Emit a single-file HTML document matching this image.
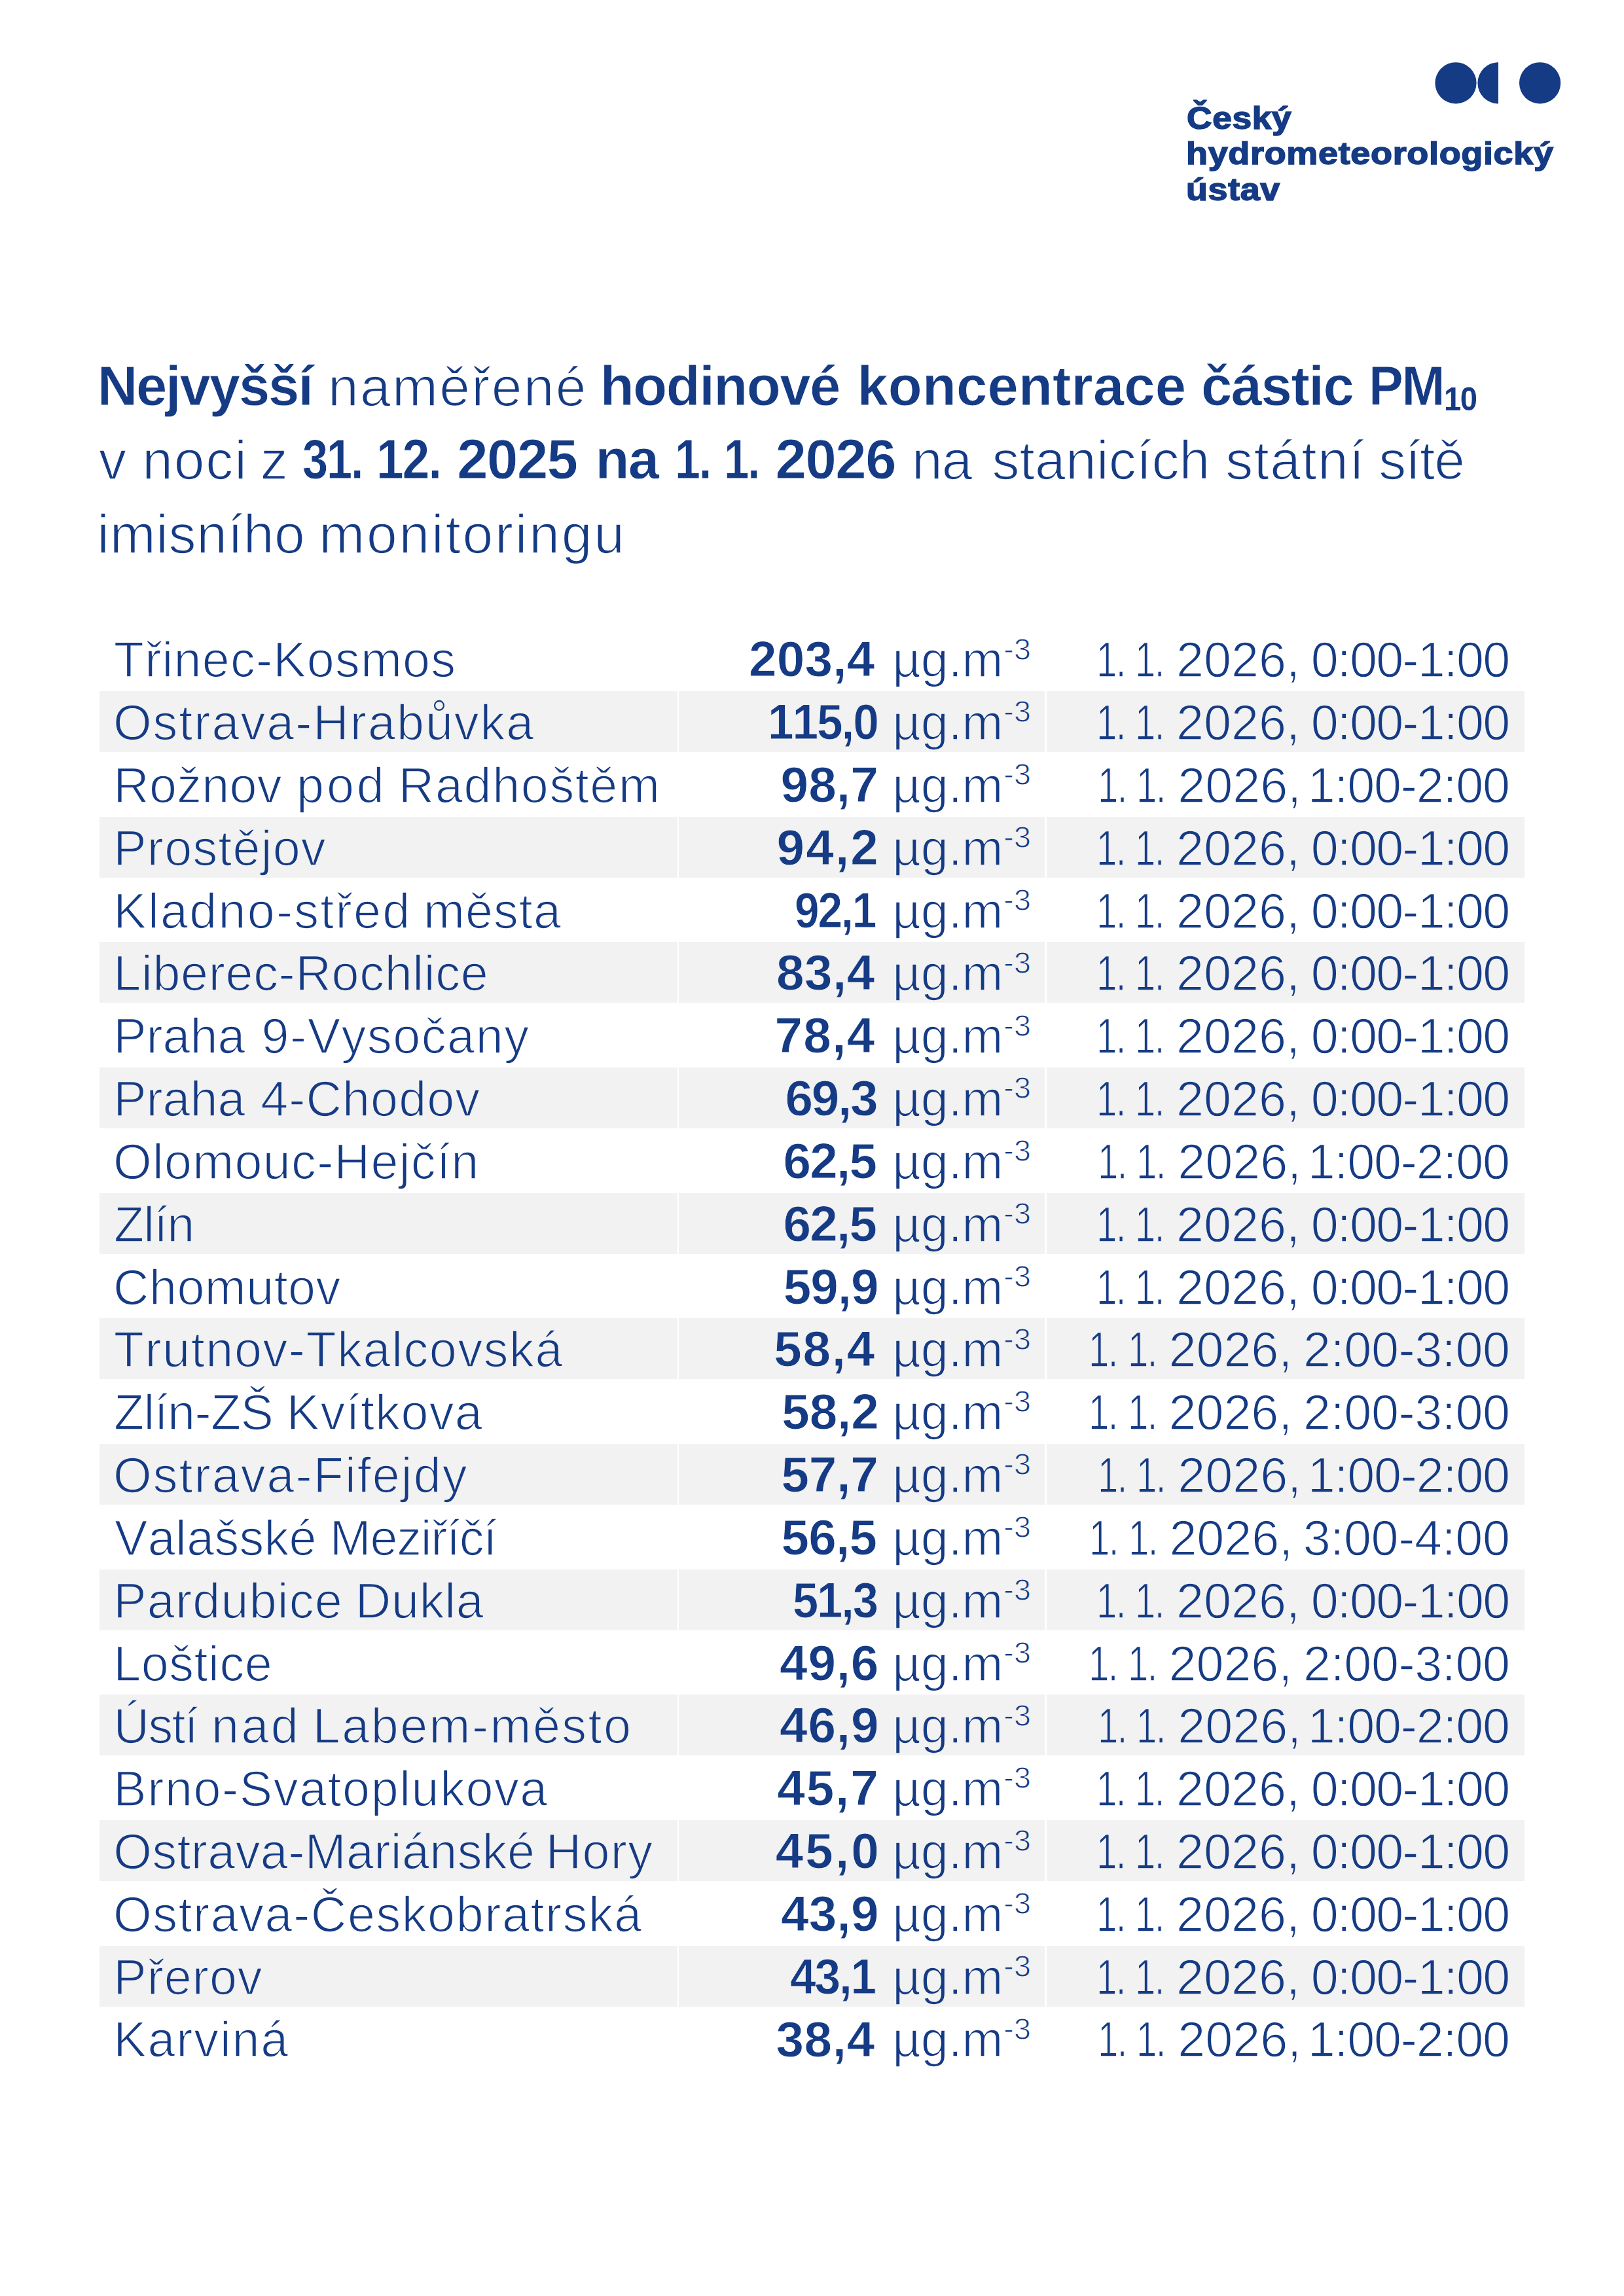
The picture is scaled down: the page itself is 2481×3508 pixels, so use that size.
<!DOCTYPE html>
<html lang="cs"><head><meta charset="utf-8"><title>Nejvyšší naměřené hodinové koncentrace částic PM10</title>
<style>
html,body{margin:0;padding:0;background:#fff;width:2481px;height:3508px}
body{position:relative;overflow:hidden;font-family:"Liberation Sans",sans-serif;color:#163b85;font-kerning:none;font-variant-ligatures:none}
span,sub,sup{position:absolute;white-space:nowrap;line-height:1;font-weight:400;transform-origin:0 0;vertical-align:baseline}
.b{font-weight:700}
header{position:absolute;left:0;top:0;width:2481px;height:340px}
.logo span{font-size:49.0px;font-weight:700;-webkit-text-stroke:1.6px #163b85}
h1{position:absolute;left:0;top:520px;width:2481px;height:360px;margin:0;font-size:84.000px;font-weight:400}
h1 span,h1 sub{font-size:84.000px;-webkit-text-stroke:1.70px #fff}
h1 .b{font-size:85.0px;-webkit-text-stroke-width:0.80px}
h1 .sub{font-size:50.0px;-webkit-text-stroke-width:0}
.t{position:absolute;left:152px;top:960.17px;width:2177px}
.r{position:relative;height:95.8333px;font-size:75.5px}
.r i{position:absolute;top:0;height:93.1px;display:block}
.r:nth-child(even) i{background:#f2f2f2}
.c1{left:0;width:882.5px}.c2{left:885px;width:559.3px}.c3{left:1446.7px;width:730.3px}
.r span,.r sup{font-size:75.5px;-webkit-text-stroke:1.66px #fff}
.r:nth-child(even) span,.r:nth-child(even) sup{-webkit-text-stroke-color:#f2f2f2}
.r .b{font-size:76.5px;-webkit-text-stroke-width:0.86px}
.r .sup{font-size:46.5px;-webkit-text-stroke-width:1.02px}
</style></head>
<body>
<header>
<svg width="2481" height="340" viewBox="0 0 2481 340" style="position:absolute;left:0;top:0"><circle cx="2224" cy="126.8" r="31.6" fill="#163b85"/><path d="M2289,95.2 A31.6,31.6 0 0 0 2289,158.4 Z" fill="#163b85"/><circle cx="2352.6" cy="126.8" r="31.6" fill="#163b85"/></svg>
<div class="logo">
<span class="b" style="left:1813.4px;top:155.8px;letter-spacing:0.60px;transform:scaleX(1.088)">Český</span>
<span class="b" style="left:1811.8px;top:209.5px;letter-spacing:0.60px;transform:scaleX(1.102)">hydrometeorologický</span>
<span class="b" style="left:1812.3px;top:264.8px;letter-spacing:0.60px;transform:scaleX(1.099)">ústav</span>
</div></header>
<h1>
<span class="b" style="left:148.7px;top:26.9px;letter-spacing:-2.12px">Nejvyšší</span>
<span style="left:501.0px;top:28.8px;letter-spacing:2.31px">naměřené</span>
<span class="b" style="left:916.8px;top:26.9px;letter-spacing:-1.47px">hodinové</span>
<span class="b" style="left:1309.4px;top:26.9px;letter-spacing:0.19px">koncentrace</span>
<span class="b" style="left:1834.9px;top:26.9px;letter-spacing:-1.44px">částic</span>
<span class="b" style="left:2090.9px;top:26.9px;letter-spacing:-2.55px;transform:scaleX(0.932)">PM</span><sub class="b sub" style="left:2206.3px;top:64.5px;letter-spacing:-1.50px;transform:scaleX(0.944)">10</sub>
<span style="left:151.0px;top:141.3px">v</span>
<span style="left:217.3px;top:141.3px;letter-spacing:1.81px">noci</span>
<span style="left:397.7px;top:141.3px">z</span>
<span class="b" style="left:462.0px;top:139.4px;letter-spacing:-2.55px;transform:scaleX(0.827)">31.</span>
<span class="b" style="left:575.0px;top:139.4px;letter-spacing:-2.55px;transform:scaleX(0.885)">12.</span>
<span class="b" style="left:698.3px;top:139.4px;letter-spacing:-1.46px">2025</span>
<span class="b" style="left:909.5px;top:139.4px;letter-spacing:-1.72px">na</span>
<span class="b" style="left:1030.7px;top:139.4px;letter-spacing:-2.55px;transform:scaleX(0.823)">1.</span>
<span class="b" style="left:1106.1px;top:139.4px;letter-spacing:-2.55px;transform:scaleX(0.812)">1.</span>
<span class="b" style="left:1184.5px;top:139.4px;letter-spacing:-1.39px">2026</span>
<span style="left:1393.0px;top:141.3px;letter-spacing:-0.86px">na</span>
<span style="left:1515.4px;top:141.3px;letter-spacing:0.18px">stanicích</span>
<span style="left:1872.2px;top:141.3px;letter-spacing:1.36px">státní</span>
<span style="left:2106.2px;top:141.3px;letter-spacing:-1.21px">sítě</span>
<span style="left:148.3px;top:253.8px;letter-spacing:0.67px">imisního</span>
<span style="left:487.3px;top:253.8px;letter-spacing:2.78px">monitoringu</span>
</h1>
<div class="t">
<div class="r"><i class="c1"></i><i class="c2"></i><i class="c3"></i> <span style="left:21.8px;top:11.1px;letter-spacing:1.22px">Třinec-Kosmos</span> <span class="b" style="left:991.9px;top:9.2px;letter-spacing:0.22px">203,4</span> <span style="left:1211.2px;top:11.1px;letter-spacing:-0.02px">µg.m</span><sup class="sup" style="left:1381.3px;top:8.4px;letter-spacing:0.19px">-3</sup> <span style="left:1522.7px;top:11.1px;letter-spacing:-2.27px;transform:scaleX(0.748);-webkit-text-stroke-width:1.43px">1.</span> <span style="left:1582.0px;top:11.1px;letter-spacing:-2.27px;transform:scaleX(0.748);-webkit-text-stroke-width:1.43px">1.</span> <span style="left:1645.1px;top:11.1px;letter-spacing:-0.02px;-webkit-text-stroke-width:1.48px">2026,</span> <span style="left:1850.7px;top:11.1px;letter-spacing:-1.82px;-webkit-text-stroke-width:1.48px">0:00-1:00</span></div>
<div class="r"><i class="c1"></i><i class="c2"></i><i class="c3"></i> <span style="left:20.9px;top:11.1px;letter-spacing:1.99px">Ostrava-Hrabůvka</span> <span class="b" style="left:1020.7px;top:9.2px;letter-spacing:-2.29px;transform:scaleX(0.932)">115,0</span> <span style="left:1211.2px;top:11.1px;letter-spacing:-0.02px">µg.m</span><sup class="sup" style="left:1381.3px;top:8.4px;letter-spacing:0.19px">-3</sup> <span style="left:1522.7px;top:11.1px;letter-spacing:-2.27px;transform:scaleX(0.748);-webkit-text-stroke-width:1.43px">1.</span> <span style="left:1582.0px;top:11.1px;letter-spacing:-2.27px;transform:scaleX(0.748);-webkit-text-stroke-width:1.43px">1.</span> <span style="left:1645.1px;top:11.1px;letter-spacing:-0.02px;-webkit-text-stroke-width:1.48px">2026,</span> <span style="left:1850.7px;top:11.1px;letter-spacing:-1.82px;-webkit-text-stroke-width:1.48px">0:00-1:00</span></div>
<div class="r"><i class="c1"></i><i class="c2"></i><i class="c3"></i> <span style="left:21.3px;top:11.1px;letter-spacing:0.26px">Rožnov</span> <span style="left:301.1px;top:11.1px;letter-spacing:3.81px">pod</span> <span style="left:456.8px;top:11.1px;letter-spacing:1.62px">Radhoštěm</span> <span class="b" style="left:1040.5px;top:9.2px;letter-spacing:0.10px">98,7</span> <span style="left:1211.2px;top:11.1px;letter-spacing:-0.02px">µg.m</span><sup class="sup" style="left:1381.3px;top:8.4px;letter-spacing:0.19px">-3</sup> <span style="left:1524.8px;top:11.1px;letter-spacing:-2.27px;transform:scaleX(0.748);-webkit-text-stroke-width:1.43px">1.</span> <span style="left:1584.3px;top:11.1px;letter-spacing:-2.27px;transform:scaleX(0.748);-webkit-text-stroke-width:1.43px">1.</span> <span style="left:1647.3px;top:11.1px;letter-spacing:-0.04px;-webkit-text-stroke-width:1.48px">2026,</span> <span style="left:1845.7px;top:11.1px;letter-spacing:-1.22px;-webkit-text-stroke-width:1.48px">1:00-2:00</span></div>
<div class="r"><i class="c1"></i><i class="c2"></i><i class="c3"></i> <span style="left:21.3px;top:11.1px;letter-spacing:1.20px">Prostějov</span> <span class="b" style="left:1034.5px;top:9.2px;letter-spacing:2.17px">94,2</span> <span style="left:1211.2px;top:11.1px;letter-spacing:-0.02px">µg.m</span><sup class="sup" style="left:1381.3px;top:8.4px;letter-spacing:0.19px">-3</sup> <span style="left:1522.7px;top:11.1px;letter-spacing:-2.27px;transform:scaleX(0.748);-webkit-text-stroke-width:1.43px">1.</span> <span style="left:1582.0px;top:11.1px;letter-spacing:-2.27px;transform:scaleX(0.748);-webkit-text-stroke-width:1.43px">1.</span> <span style="left:1645.1px;top:11.1px;letter-spacing:-0.02px;-webkit-text-stroke-width:1.48px">2026,</span> <span style="left:1850.7px;top:11.1px;letter-spacing:-1.82px;-webkit-text-stroke-width:1.48px">0:00-1:00</span></div>
<div class="r"><i class="c1"></i><i class="c2"></i><i class="c3"></i> <span style="left:21.3px;top:11.1px;letter-spacing:2.26px">Kladno-střed</span> <span style="left:495.0px;top:11.1px;letter-spacing:1.07px">města</span> <span class="b" style="left:1061.6px;top:9.2px;letter-spacing:-2.29px;transform:scaleX(0.883)">92,1</span> <span style="left:1211.2px;top:11.1px;letter-spacing:-0.02px">µg.m</span><sup class="sup" style="left:1381.3px;top:8.4px;letter-spacing:0.19px">-3</sup> <span style="left:1522.7px;top:11.1px;letter-spacing:-2.27px;transform:scaleX(0.748);-webkit-text-stroke-width:1.43px">1.</span> <span style="left:1582.0px;top:11.1px;letter-spacing:-2.27px;transform:scaleX(0.748);-webkit-text-stroke-width:1.43px">1.</span> <span style="left:1645.1px;top:11.1px;letter-spacing:-0.02px;-webkit-text-stroke-width:1.48px">2026,</span> <span style="left:1850.7px;top:11.1px;letter-spacing:-1.82px;-webkit-text-stroke-width:1.48px">0:00-1:00</span></div>
<div class="r"><i class="c1"></i><i class="c2"></i><i class="c3"></i> <span style="left:21.3px;top:11.1px;letter-spacing:0.67px">Liberec-Rochlice</span> <span class="b" style="left:1034.0px;top:9.2px;letter-spacing:0.44px">83,4</span> <span style="left:1211.2px;top:11.1px;letter-spacing:-0.02px">µg.m</span><sup class="sup" style="left:1381.3px;top:8.4px;letter-spacing:0.19px">-3</sup> <span style="left:1522.7px;top:11.1px;letter-spacing:-2.27px;transform:scaleX(0.748);-webkit-text-stroke-width:1.43px">1.</span> <span style="left:1582.0px;top:11.1px;letter-spacing:-2.27px;transform:scaleX(0.748);-webkit-text-stroke-width:1.43px">1.</span> <span style="left:1645.1px;top:11.1px;letter-spacing:-0.02px;-webkit-text-stroke-width:1.48px">2026,</span> <span style="left:1850.7px;top:11.1px;letter-spacing:-1.82px;-webkit-text-stroke-width:1.48px">0:00-1:00</span></div>
<div class="r"><i class="c1"></i><i class="c2"></i><i class="c3"></i> <span style="left:21.3px;top:11.1px;letter-spacing:-0.10px">Praha</span> <span style="left:247.4px;top:11.1px;letter-spacing:1.57px">9-Vysočany</span> <span class="b" style="left:1031.4px;top:9.2px;letter-spacing:1.33px">78,4</span> <span style="left:1211.2px;top:11.1px;letter-spacing:-0.02px">µg.m</span><sup class="sup" style="left:1381.3px;top:8.4px;letter-spacing:0.19px">-3</sup> <span style="left:1522.7px;top:11.1px;letter-spacing:-2.27px;transform:scaleX(0.748);-webkit-text-stroke-width:1.43px">1.</span> <span style="left:1582.0px;top:11.1px;letter-spacing:-2.27px;transform:scaleX(0.748);-webkit-text-stroke-width:1.43px">1.</span> <span style="left:1645.1px;top:11.1px;letter-spacing:-0.02px;-webkit-text-stroke-width:1.48px">2026,</span> <span style="left:1850.7px;top:11.1px;letter-spacing:-1.82px;-webkit-text-stroke-width:1.48px">0:00-1:00</span></div>
<div class="r"><i class="c1"></i><i class="c2"></i><i class="c3"></i> <span style="left:21.3px;top:11.1px;letter-spacing:-0.10px">Praha</span> <span style="left:246.2px;top:11.1px;letter-spacing:1.07px">4-Chodov</span> <span class="b" style="left:1047.4px;top:9.2px;letter-spacing:-2.22px">69,3</span> <span style="left:1211.2px;top:11.1px;letter-spacing:-0.02px">µg.m</span><sup class="sup" style="left:1381.3px;top:8.4px;letter-spacing:0.19px">-3</sup> <span style="left:1522.7px;top:11.1px;letter-spacing:-2.27px;transform:scaleX(0.748);-webkit-text-stroke-width:1.43px">1.</span> <span style="left:1582.0px;top:11.1px;letter-spacing:-2.27px;transform:scaleX(0.748);-webkit-text-stroke-width:1.43px">1.</span> <span style="left:1645.1px;top:11.1px;letter-spacing:-0.02px;-webkit-text-stroke-width:1.48px">2026,</span> <span style="left:1850.7px;top:11.1px;letter-spacing:-1.82px;-webkit-text-stroke-width:1.48px">0:00-1:00</span></div>
<div class="r"><i class="c1"></i><i class="c2"></i><i class="c3"></i> <span style="left:20.9px;top:11.1px;letter-spacing:1.31px">Olomouc-Hejčín</span> <span class="b" style="left:1044.4px;top:9.2px;letter-spacing:-1.76px">62,5</span> <span style="left:1211.2px;top:11.1px;letter-spacing:-0.02px">µg.m</span><sup class="sup" style="left:1381.3px;top:8.4px;letter-spacing:0.19px">-3</sup> <span style="left:1524.8px;top:11.1px;letter-spacing:-2.27px;transform:scaleX(0.748);-webkit-text-stroke-width:1.43px">1.</span> <span style="left:1584.3px;top:11.1px;letter-spacing:-2.27px;transform:scaleX(0.748);-webkit-text-stroke-width:1.43px">1.</span> <span style="left:1647.3px;top:11.1px;letter-spacing:-0.04px;-webkit-text-stroke-width:1.48px">2026,</span> <span style="left:1845.7px;top:11.1px;letter-spacing:-1.22px;-webkit-text-stroke-width:1.48px">1:00-2:00</span></div>
<div class="r"><i class="c1"></i><i class="c2"></i><i class="c3"></i> <span style="left:22.1px;top:11.1px;letter-spacing:-0.90px">Zlín</span> <span class="b" style="left:1044.4px;top:9.2px;letter-spacing:-1.76px">62,5</span> <span style="left:1211.2px;top:11.1px;letter-spacing:-0.02px">µg.m</span><sup class="sup" style="left:1381.3px;top:8.4px;letter-spacing:0.19px">-3</sup> <span style="left:1522.7px;top:11.1px;letter-spacing:-2.27px;transform:scaleX(0.748);-webkit-text-stroke-width:1.43px">1.</span> <span style="left:1582.0px;top:11.1px;letter-spacing:-2.27px;transform:scaleX(0.748);-webkit-text-stroke-width:1.43px">1.</span> <span style="left:1645.1px;top:11.1px;letter-spacing:-0.02px;-webkit-text-stroke-width:1.48px">2026,</span> <span style="left:1850.7px;top:11.1px;letter-spacing:-1.82px;-webkit-text-stroke-width:1.48px">0:00-1:00</span></div>
<div class="r"><i class="c1"></i><i class="c2"></i><i class="c3"></i> <span style="left:21.0px;top:11.1px;letter-spacing:0.45px">Chomutov</span> <span class="b" style="left:1044.8px;top:9.2px;letter-spacing:-1.08px">59,9</span> <span style="left:1211.2px;top:11.1px;letter-spacing:-0.02px">µg.m</span><sup class="sup" style="left:1381.3px;top:8.4px;letter-spacing:0.19px">-3</sup> <span style="left:1522.7px;top:11.1px;letter-spacing:-2.27px;transform:scaleX(0.748);-webkit-text-stroke-width:1.43px">1.</span> <span style="left:1582.0px;top:11.1px;letter-spacing:-2.27px;transform:scaleX(0.748);-webkit-text-stroke-width:1.43px">1.</span> <span style="left:1645.1px;top:11.1px;letter-spacing:-0.02px;-webkit-text-stroke-width:1.48px">2026,</span> <span style="left:1850.7px;top:11.1px;letter-spacing:-1.82px;-webkit-text-stroke-width:1.48px">0:00-1:00</span></div>
<div class="r"><i class="c1"></i><i class="c2"></i><i class="c3"></i> <span style="left:21.8px;top:11.1px;letter-spacing:1.58px">Trutnov-Tkalcovská</span> <span class="b" style="left:1030.3px;top:9.2px;letter-spacing:1.68px">58,4</span> <span style="left:1211.2px;top:11.1px;letter-spacing:-0.02px">µg.m</span><sup class="sup" style="left:1381.3px;top:8.4px;letter-spacing:0.19px">-3</sup> <span style="left:1511.0px;top:11.1px;letter-spacing:-2.27px;transform:scaleX(0.748);-webkit-text-stroke-width:1.43px">1.</span> <span style="left:1570.5px;top:11.1px;letter-spacing:-2.27px;transform:scaleX(0.748);-webkit-text-stroke-width:1.43px">1.</span> <span style="left:1633.5px;top:11.1px;letter-spacing:-0.04px;-webkit-text-stroke-width:1.48px">2026,</span> <span style="left:1839.1px;top:11.1px;letter-spacing:-0.39px;-webkit-text-stroke-width:1.48px">2:00-3:00</span></div>
<div class="r"><i class="c1"></i><i class="c2"></i><i class="c3"></i> <span style="left:22.1px;top:11.1px;letter-spacing:-0.63px">Zlín-ZŠ</span> <span style="left:285.8px;top:11.1px;letter-spacing:1.36px">Kvítkova</span> <span class="b" style="left:1042.3px;top:9.2px;letter-spacing:-0.17px">58,2</span> <span style="left:1211.2px;top:11.1px;letter-spacing:-0.02px">µg.m</span><sup class="sup" style="left:1381.3px;top:8.4px;letter-spacing:0.19px">-3</sup> <span style="left:1511.0px;top:11.1px;letter-spacing:-2.27px;transform:scaleX(0.748);-webkit-text-stroke-width:1.43px">1.</span> <span style="left:1570.5px;top:11.1px;letter-spacing:-2.27px;transform:scaleX(0.748);-webkit-text-stroke-width:1.43px">1.</span> <span style="left:1633.5px;top:11.1px;letter-spacing:-0.04px;-webkit-text-stroke-width:1.48px">2026,</span> <span style="left:1839.1px;top:11.1px;letter-spacing:-0.39px;-webkit-text-stroke-width:1.48px">2:00-3:00</span></div>
<div class="r"><i class="c1"></i><i class="c2"></i><i class="c3"></i> <span style="left:20.9px;top:11.1px;letter-spacing:2.05px">Ostrava-Fifejdy</span> <span class="b" style="left:1041.6px;top:9.2px;letter-spacing:-0.27px">57,7</span> <span style="left:1211.2px;top:11.1px;letter-spacing:-0.02px">µg.m</span><sup class="sup" style="left:1381.3px;top:8.4px;letter-spacing:0.19px">-3</sup> <span style="left:1524.8px;top:11.1px;letter-spacing:-2.27px;transform:scaleX(0.748);-webkit-text-stroke-width:1.43px">1.</span> <span style="left:1584.3px;top:11.1px;letter-spacing:-2.27px;transform:scaleX(0.748);-webkit-text-stroke-width:1.43px">1.</span> <span style="left:1647.3px;top:11.1px;letter-spacing:-0.04px;-webkit-text-stroke-width:1.48px">2026,</span> <span style="left:1845.7px;top:11.1px;letter-spacing:-1.22px;-webkit-text-stroke-width:1.48px">1:00-2:00</span></div>
<div class="r"><i class="c1"></i><i class="c2"></i><i class="c3"></i> <span style="left:23.1px;top:11.1px;letter-spacing:0.31px">Valašské</span> <span style="left:351.8px;top:11.1px;letter-spacing:-1.26px">Meziříčí</span> <span class="b" style="left:1041.6px;top:9.2px;letter-spacing:-0.85px">56,5</span> <span style="left:1211.2px;top:11.1px;letter-spacing:-0.02px">µg.m</span><sup class="sup" style="left:1381.3px;top:8.4px;letter-spacing:0.19px">-3</sup> <span style="left:1512.3px;top:11.1px;letter-spacing:-2.27px;transform:scaleX(0.748);-webkit-text-stroke-width:1.43px">1.</span> <span style="left:1572.2px;top:11.1px;letter-spacing:-2.27px;transform:scaleX(0.748);-webkit-text-stroke-width:1.43px">1.</span> <span style="left:1634.4px;top:11.1px;letter-spacing:-0.04px;-webkit-text-stroke-width:1.48px">2026,</span> <span style="left:1838.7px;top:11.1px;letter-spacing:-0.34px;-webkit-text-stroke-width:1.48px">3:00-4:00</span></div>
<div class="r"><i class="c1"></i><i class="c2"></i><i class="c3"></i> <span style="left:21.3px;top:11.1px;letter-spacing:1.18px">Pardubice</span> <span style="left:390.8px;top:11.1px;letter-spacing:0.76px">Dukla</span> <span class="b" style="left:1059.3px;top:9.2px;letter-spacing:-2.29px;transform:scaleX(0.922)">51,3</span> <span style="left:1211.2px;top:11.1px;letter-spacing:-0.02px">µg.m</span><sup class="sup" style="left:1381.3px;top:8.4px;letter-spacing:0.19px">-3</sup> <span style="left:1522.7px;top:11.1px;letter-spacing:-2.27px;transform:scaleX(0.748);-webkit-text-stroke-width:1.43px">1.</span> <span style="left:1582.0px;top:11.1px;letter-spacing:-2.27px;transform:scaleX(0.748);-webkit-text-stroke-width:1.43px">1.</span> <span style="left:1645.1px;top:11.1px;letter-spacing:-0.02px;-webkit-text-stroke-width:1.48px">2026,</span> <span style="left:1850.7px;top:11.1px;letter-spacing:-1.82px;-webkit-text-stroke-width:1.48px">0:00-1:00</span></div>
<div class="r"><i class="c1"></i><i class="c2"></i><i class="c3"></i> <span style="left:21.3px;top:11.1px;letter-spacing:0.53px">Loštice</span> <span class="b" style="left:1039.0px;top:9.2px;letter-spacing:0.83px">49,6</span> <span style="left:1211.2px;top:11.1px;letter-spacing:-0.02px">µg.m</span><sup class="sup" style="left:1381.3px;top:8.4px;letter-spacing:0.19px">-3</sup> <span style="left:1511.0px;top:11.1px;letter-spacing:-2.27px;transform:scaleX(0.748);-webkit-text-stroke-width:1.43px">1.</span> <span style="left:1570.5px;top:11.1px;letter-spacing:-2.27px;transform:scaleX(0.748);-webkit-text-stroke-width:1.43px">1.</span> <span style="left:1633.5px;top:11.1px;letter-spacing:-0.04px;-webkit-text-stroke-width:1.48px">2026,</span> <span style="left:1839.1px;top:11.1px;letter-spacing:-0.39px;-webkit-text-stroke-width:1.48px">2:00-3:00</span></div>
<div class="r"><i class="c1"></i><i class="c2"></i><i class="c3"></i> <span style="left:21.6px;top:11.1px;letter-spacing:-1.72px">Ústí</span> <span style="left:171.0px;top:11.1px;letter-spacing:3.39px">nad</span> <span style="left:325.8px;top:11.1px;letter-spacing:2.46px">Labem-město</span> <span class="b" style="left:1039.0px;top:9.2px;letter-spacing:0.86px">46,9</span> <span style="left:1211.2px;top:11.1px;letter-spacing:-0.02px">µg.m</span><sup class="sup" style="left:1381.3px;top:8.4px;letter-spacing:0.19px">-3</sup> <span style="left:1524.8px;top:11.1px;letter-spacing:-2.27px;transform:scaleX(0.748);-webkit-text-stroke-width:1.43px">1.</span> <span style="left:1584.3px;top:11.1px;letter-spacing:-2.27px;transform:scaleX(0.748);-webkit-text-stroke-width:1.43px">1.</span> <span style="left:1647.3px;top:11.1px;letter-spacing:-0.04px;-webkit-text-stroke-width:1.48px">2026,</span> <span style="left:1845.7px;top:11.1px;letter-spacing:-1.22px;-webkit-text-stroke-width:1.48px">1:00-2:00</span></div>
<div class="r"><i class="c1"></i><i class="c2"></i><i class="c3"></i> <span style="left:21.3px;top:11.1px;letter-spacing:1.57px">Brno-Svatoplukova</span> <span class="b" style="left:1035.3px;top:9.2px;letter-spacing:1.83px">45,7</span> <span style="left:1211.2px;top:11.1px;letter-spacing:-0.02px">µg.m</span><sup class="sup" style="left:1381.3px;top:8.4px;letter-spacing:0.19px">-3</sup> <span style="left:1522.7px;top:11.1px;letter-spacing:-2.27px;transform:scaleX(0.748);-webkit-text-stroke-width:1.43px">1.</span> <span style="left:1582.0px;top:11.1px;letter-spacing:-2.27px;transform:scaleX(0.748);-webkit-text-stroke-width:1.43px">1.</span> <span style="left:1645.1px;top:11.1px;letter-spacing:-0.02px;-webkit-text-stroke-width:1.48px">2026,</span> <span style="left:1850.7px;top:11.1px;letter-spacing:-1.82px;-webkit-text-stroke-width:1.48px">0:00-1:00</span></div>
<div class="r"><i class="c1"></i><i class="c2"></i><i class="c3"></i> <span style="left:21.3px;top:11.1px;letter-spacing:0.37px">Ostrava-Mariánské</span> <span style="left:681.8px;top:11.1px;letter-spacing:1.27px">Hory</span> <span class="b" style="left:1032.8px;top:9.2px;letter-spacing:3.03px">45,0</span> <span style="left:1211.2px;top:11.1px;letter-spacing:-0.02px">µg.m</span><sup class="sup" style="left:1381.3px;top:8.4px;letter-spacing:0.19px">-3</sup> <span style="left:1522.7px;top:11.1px;letter-spacing:-2.27px;transform:scaleX(0.748);-webkit-text-stroke-width:1.43px">1.</span> <span style="left:1582.0px;top:11.1px;letter-spacing:-2.27px;transform:scaleX(0.748);-webkit-text-stroke-width:1.43px">1.</span> <span style="left:1645.1px;top:11.1px;letter-spacing:-0.02px;-webkit-text-stroke-width:1.48px">2026,</span> <span style="left:1850.7px;top:11.1px;letter-spacing:-1.82px;-webkit-text-stroke-width:1.48px">0:00-1:00</span></div>
<div class="r"><i class="c1"></i><i class="c2"></i><i class="c3"></i> <span style="left:20.9px;top:11.1px;letter-spacing:1.56px">Ostrava-Českobratrská</span> <span class="b" style="left:1041.0px;top:9.2px;letter-spacing:0.19px">43,9</span> <span style="left:1211.2px;top:11.1px;letter-spacing:-0.02px">µg.m</span><sup class="sup" style="left:1381.3px;top:8.4px;letter-spacing:0.19px">-3</sup> <span style="left:1522.7px;top:11.1px;letter-spacing:-2.27px;transform:scaleX(0.748);-webkit-text-stroke-width:1.43px">1.</span> <span style="left:1582.0px;top:11.1px;letter-spacing:-2.27px;transform:scaleX(0.748);-webkit-text-stroke-width:1.43px">1.</span> <span style="left:1645.1px;top:11.1px;letter-spacing:-0.02px;-webkit-text-stroke-width:1.48px">2026,</span> <span style="left:1850.7px;top:11.1px;letter-spacing:-1.82px;-webkit-text-stroke-width:1.48px">0:00-1:00</span></div>
<div class="r"><i class="c1"></i><i class="c2"></i><i class="c3"></i> <span style="left:21.3px;top:11.1px;letter-spacing:0.99px">Přerov</span> <span class="b" style="left:1054.9px;top:9.2px;letter-spacing:-2.29px;transform:scaleX(0.931)">43,1</span> <span style="left:1211.2px;top:11.1px;letter-spacing:-0.02px">µg.m</span><sup class="sup" style="left:1381.3px;top:8.4px;letter-spacing:0.19px">-3</sup> <span style="left:1522.7px;top:11.1px;letter-spacing:-2.27px;transform:scaleX(0.748);-webkit-text-stroke-width:1.43px">1.</span> <span style="left:1582.0px;top:11.1px;letter-spacing:-2.27px;transform:scaleX(0.748);-webkit-text-stroke-width:1.43px">1.</span> <span style="left:1645.1px;top:11.1px;letter-spacing:-0.02px;-webkit-text-stroke-width:1.48px">2026,</span> <span style="left:1850.7px;top:11.1px;letter-spacing:-1.82px;-webkit-text-stroke-width:1.48px">0:00-1:00</span></div>
<div class="r"><i class="c1"></i><i class="c2"></i><i class="c3"></i> <span style="left:21.3px;top:11.1px;letter-spacing:1.84px">Karviná</span> <span class="b" style="left:1033.4px;top:9.2px;letter-spacing:0.65px">38,4</span> <span style="left:1211.2px;top:11.1px;letter-spacing:-0.02px">µg.m</span><sup class="sup" style="left:1381.3px;top:8.4px;letter-spacing:0.19px">-3</sup> <span style="left:1524.8px;top:11.1px;letter-spacing:-2.27px;transform:scaleX(0.748);-webkit-text-stroke-width:1.43px">1.</span> <span style="left:1584.3px;top:11.1px;letter-spacing:-2.27px;transform:scaleX(0.748);-webkit-text-stroke-width:1.43px">1.</span> <span style="left:1647.3px;top:11.1px;letter-spacing:-0.04px;-webkit-text-stroke-width:1.48px">2026,</span> <span style="left:1845.7px;top:11.1px;letter-spacing:-1.22px;-webkit-text-stroke-width:1.48px">1:00-2:00</span></div>
</div>
</body></html>
